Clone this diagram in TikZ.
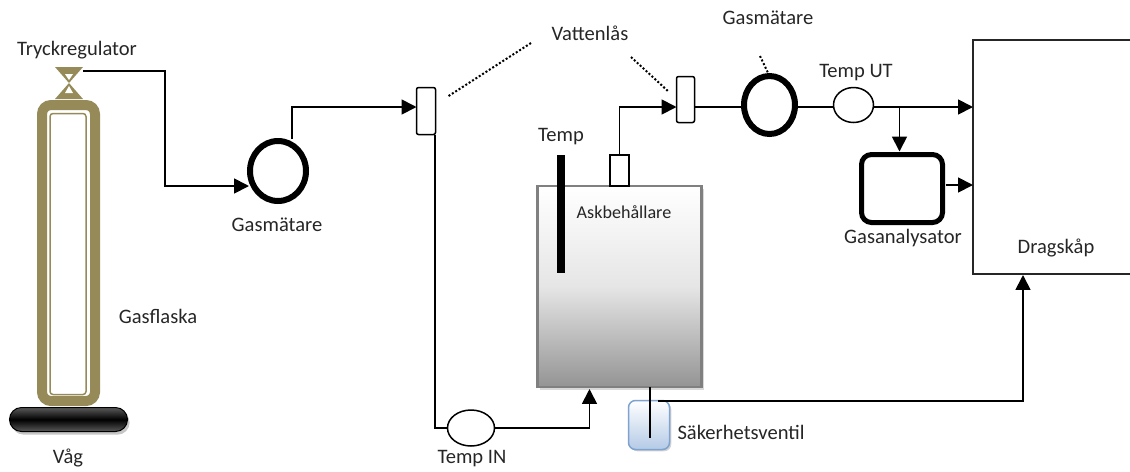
\documentclass[tikz,border=0pt]{standalone}
\usepackage{fontspec}
\setmainfont{Carlito}
\usepackage{xcolor}
\usetikzlibrary{positioning,arrows.meta,calc,shadows,shapes.geometric}
\definecolor{flaskolive}{HTML}{968B58}
\definecolor{ventilblue}{HTML}{B4CAE6}
\definecolor{ventilrim}{HTML}{7FA3D0}
\newdimen\px
\px=0.02cm

\begin{document}
\begin{tikzpicture}
		[x=0.02cm,y=-0.02cm,
		every node/.style={inner sep=0pt,outer sep=0pt},
		>={Triangle[length=8.5pt,width=8.5pt]},
		pipe/.style={draw=black,line width=1.8\px},
		txt/.style={font=\fontsize{11.7}{13}\selectfont,text=black!85},
		meter/.style={draw=black,ellipse,line width=6\px,fill=white},
		sensor/.style={draw=black,ellipse,line width=1.5\px,fill=white},
		lock/.style={draw=black,rounded corners=2\px,line width=1.5\px,fill=white},
		note/.style={draw=black,line width=2\px,dash pattern=on 2\px off 2\px}]
		\useasboundingbox (0,0) rectangle (1130,471);

		% gasflaska med regulator och våg
		\node (flask) at (68.5,253) [draw=flaskolive,line width=10\px,rounded corners=9\px,minimum width=53\px,minimum height=296\px] {};
		\node (flaskin) at (68,254) [draw=flaskolive,line width=1.5\px,rounded corners=3\px,minimum width=36\px,minimum height=281\px] {};
		\fill[flaskolive] (55,67) -- (83,67) -- (55,99) -- (83,99) -- cycle;
		\fill[white] (65,74) -- (73,74) -- (69,80) -- cycle (69,86) -- (65,93) -- (73,93) -- cycle;
		\node (valve) at (69,83) [minimum width=28\px,minimum height=32\px] {};
		\node (scale) at (68.5,419.5) [draw=black,line width=1\px,rounded corners=12\px,minimum width=118\px,minimum height=24\px,top color=black!65,bottom color=black!65,middle color=black,drop shadow={shadow xshift=1.2pt,shadow yshift=-1.8pt,opacity=.45}] {};

		% behållare
		\node (tank) at (619.5,286.5) [draw=black!50,line width=2.5\px,minimum width=164\px,minimum height=201\px,top color=white,bottom color=black!42,middle color=black!10,drop shadow={shadow xshift=1.5pt,shadow yshift=-1.5pt,opacity=.3}] {};
		\node (outlet) at (619.5,170.5) [draw=black,line width=1.5\px,fill=white,minimum width=19\px,minimum height=31\px] {};
		\node (tempbar) at (561,214) [fill=black,minimum width=8\px,minimum height=118\px] {};
		\node (safety) at (649,425) [draw=ventilrim,line width=1.5\px,rounded corners=7\px,minimum width=41\px,minimum height=49\px,top color=white,bottom color=ventilblue,drop shadow={shadow xshift=1pt,shadow yshift=-1pt,opacity=.35}] {};
		\coordinate (safetyend) at (650,438);

		% mätare och lås
		\node (meterA) at (278,171) [meter,minimum width=56\px,minimum height=60\px] {};
		\node (lockA) at (426,111) [lock,minimum width=19\px,minimum height=47\px] {};
		\node (sensorIn) at (471,428) [sensor,minimum width=47\px,minimum height=36\px] {};
		\node (lockB) at (685.5,99.5) [lock,minimum width=18\px,minimum height=46\px] {};
		\node (meterB) at (769.5,105) [meter,minimum width=51\px,minimum height=58\px] {};
		\node (sensorUt) at (853.5,105) [sensor,minimum width=40\px,minimum height=35\px] {};
		\node (analyzer) at (902,188.5) [draw=black,line width=5\px,rounded corners=10\px,fill=white,minimum width=81\px,minimum height=68\px] {};

		% dragskåp, öppet åt höger
		\draw[line width=2\px,draw=black!85] (1130,40) -- (973,40) -- (973,274) -- (1130,274);
		\coordinate (hoodA) at (973,107);
		\coordinate (hoodB) at (973,185);
		\coordinate (hoodC) at (1023,275);

		% ledningar
		\draw[pipe,->] ($(valve.north east)+(0,4)$) -| (165,186) -- ($(meterA.west)+(-1,15)$);
		\draw[pipe,->] ($(meterA.north)+(14,-2)$) |- ($(lockA.west)+(0,-4)$);
		\draw[pipe] ($(lockA.south)+(9,0)$) |- (sensorIn.west);
		\draw[pipe,->] (sensorIn.east) -| ($(tank.south)+(-30,2)$);
		\draw[pipe,->] (outlet.north) |- ($(lockB.west)+(0,7.5)$);
		\draw[pipe] ($(lockB.east)+(0,7.5)$) -- ($(meterB.west)+(0,2)$);
		\draw[pipe] ($(meterB.east)+(0,2)$) -- ($(sensorUt.west)+(0,2)$);
		\draw[pipe,->] ($(sensorUt.east)+(0,2)$) -- (hoodA);
		\draw[pipe,->] ($(analyzer.north)+(-2.5,-47.5)$) -- ($(analyzer.north)+(-2.5,-3)$);
		\draw[pipe,->] ($(analyzer.east)+(3,-3.5)$) -- (hoodB);
		\draw[pipe] (tank.south -| safetyend) -- (safetyend);
		\draw[pipe,->] ($(safety.north)+(9,0.5)$) -| (hoodC);

		% text
		\node[txt] (lblReg) at (77,50) {Tryckregulator};
		\node[txt] (lblFlask) at (158,316) {Gasflaska};
		\node[txt] (lblScale) at (68,458) {Våg};
		\node[txt] (lblMeterA) at (277,225) {Gasmätare};
		\node[txt] (lblLock) at (590,33) {Vattenlås};
		\node[txt] (lblMeterB) at (768,18) {Gasmätare};
		\node[txt] (lblUt) at (856,73) {Temp UT};
		\node[txt] (lblTemp) at (561,137) {Temp};
		\node[txt,font=\fontsize{10.3}{12}\selectfont] (lblTank) at (624,212) {Askbehållare};
		\node[txt] (lblAnalyzer) at (903,238) {Gasanalysator};
		\node[txt] (lblHood) at (1056,248) {Dragskåp};
		\node[txt] (lblIn) at (472,459) {Temp IN};
		\node[txt] (lblSafety) at (741,432) {Säkerhetsventil};

		% prickade hänvisningar
		\coordinate (noteA) at (531,43);
		\coordinate (noteB) at (631,57);
		\coordinate (noteC) at (760,56);
		\draw[note] (noteA) -- (447,97);
		\draw[note] (noteB) -- (669,92);
		\draw[note] (noteC) -- (meterB.north);
\end{tikzpicture}
\end{document}
